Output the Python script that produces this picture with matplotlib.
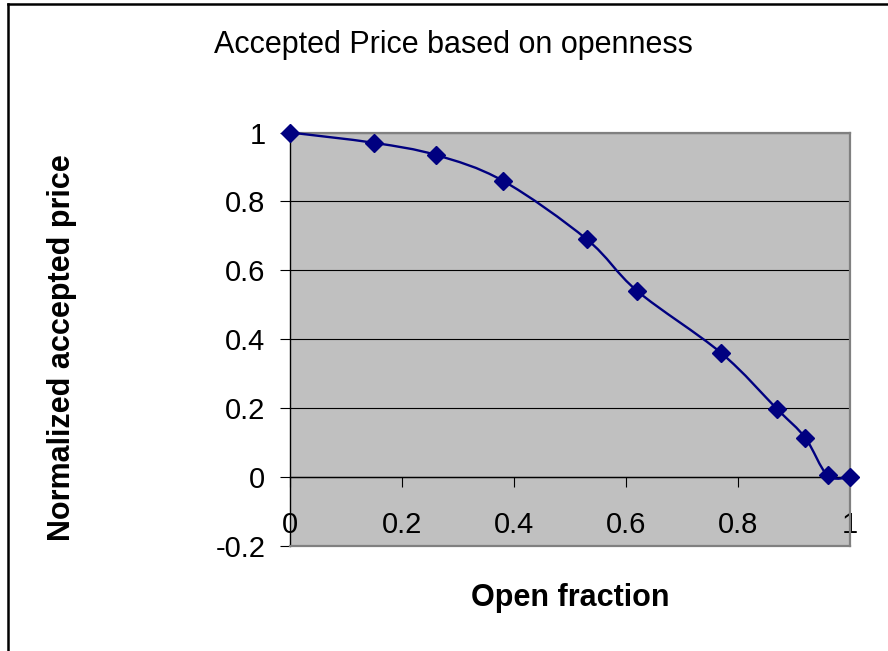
import numpy as np
import matplotlib
matplotlib.use("Agg")
import matplotlib.pyplot as plt
from matplotlib.path import Path
from matplotlib.patches import PathPatch
from matplotlib.lines import Line2D

plt.rcParams['font.family'] = ['Liberation Sans', 'DejaVu Sans']

# Data
open_fraction = [0.0, 0.15, 0.26, 0.38, 0.53, 0.62, 0.77, 0.87, 0.92, 0.96, 1.0]
accepted_price = [1.0, 0.97, 0.935, 0.86, 0.69, 0.54, 0.36, 0.197, 0.114, 0.005, 0.0]

y_ticks = [-0.2, 0.0, 0.2, 0.4, 0.6, 0.8, 1.0]
y_tick_labels = ['-0.2', '0', '0.2', '0.4', '0.6', '0.8', '1']
x_ticks = [0.0, 0.2, 0.4, 0.6, 0.8, 1.0]
x_tick_labels = ['0', '0.2', '0.4', '0.6', '0.8', '1']

title = 'Accepted Price based on openness'
x_label = 'Open fraction'
y_label = 'Normalized accepted price'

navy = '#000080'
W, H = 888, 651

fig = plt.figure(figsize=(W / 100, H / 100), dpi=100)
fig.patch.set_facecolor('white')

ax = fig.add_axes([290 / W, 1 - 546 / H, 560 / W, (546 - 132.5) / H])
ax.set_xlim(0, 1)
ax.set_ylim(-0.2, 1)
ax.set_facecolor('#C0C0C0')

# horizontal gridlines
ax.set_axisbelow(True)
ax.yaxis.grid(True, color='black', linewidth=0.8)
ax.xaxis.grid(False)

# spines: y axis black, x axis crossing at zero, plot-area border grey
ax.spines['left'].set_color('black')
ax.spines['left'].set_linewidth(1.0)
ax.spines['bottom'].set_position(('data', 0))
ax.spines['bottom'].set_color('black')
ax.spines['bottom'].set_linewidth(1.0)
for s in ('top', 'right'):
    ax.spines[s].set_color('#808080')
    ax.spines[s].set_linewidth(1.6)
ax.add_line(Line2D([0, 1], [0, 0], transform=ax.transAxes, color='#808080',
                   linewidth=1.6, clip_on=False, zorder=3))

ax.set_yticks(y_ticks)
ax.set_yticklabels(y_tick_labels)
ax.set_xticks(x_ticks)
ax.set_xticklabels(x_tick_labels)
ax.tick_params(axis='y', direction='out', length=7.2, width=0.8,
               labelsize=21, pad=10.5, colors='black')
ax.tick_params(axis='x', direction='out', length=7.2, width=0.8,
               labelsize=21, pad=17, colors='black')

# smoothed connecting line (cubic Bezier through the points)
pts = np.column_stack([open_fraction, accepted_price])
ext = np.vstack([pts[0], pts, pts[-1]])
verts = [tuple(pts[0])]
codes = [Path.MOVETO]
for i in range(len(pts) - 1):
    p0, p1, p2, p3 = ext[i], ext[i + 1], ext[i + 2], ext[i + 3]
    c1 = p1 + (p2 - p0) / 6.0
    c2 = p2 - (p3 - p1) / 6.0
    verts += [tuple(c1), tuple(c2), tuple(p2)]
    codes += [Path.CURVE4, Path.CURVE4, Path.CURVE4]
curve = PathPatch(Path(verts, codes), facecolor='none', edgecolor=navy,
                  linewidth=1.7, clip_on=False, zorder=4)
ax.add_patch(curve)

ax.plot(open_fraction, accepted_price, linestyle='none', marker='D',
        markersize=9.5, color=navy, clip_on=False, zorder=5)

# titles
fig.text(453 / W, 1 - 45 / H, title, ha='center', va='center', fontsize=22)
fig.text(570 / W, 1 - 598 / H, x_label, ha='center', va='center',
         fontsize=22, fontweight='bold')
fig.text(62 / W, 1 - 348 / H, y_label, ha='center', va='center',
         fontsize=22, fontweight='bold', rotation=90)

# chart frame
fig.add_artist(Line2D([7.5 / W, 7.5 / W], [0, 1 - 3.5 / H], transform=fig.transFigure,
                      color='black', linewidth=1.8))
fig.add_artist(Line2D([7.5 / W, 1], [1 - 3.5 / H, 1 - 3.5 / H], transform=fig.transFigure,
                      color='black', linewidth=1.8))

fig.savefig('out.png', dpi=100)
